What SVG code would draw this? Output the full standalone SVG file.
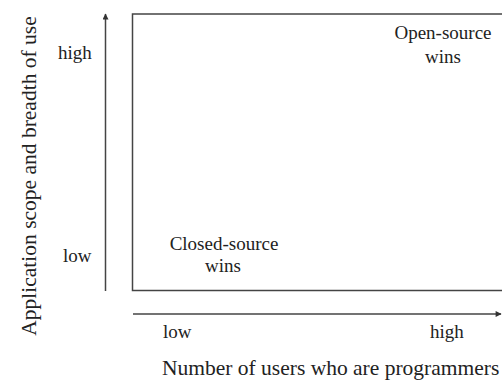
<svg xmlns="http://www.w3.org/2000/svg" width="502" height="383" viewBox="0 0 502 383">
<style>
text{font-family:"Liberation Serif","Times New Roman",serif;fill:#222}
.lbl{font-size:19px}
.ttl{font-size:21.5px}
.ax{stroke:#444;stroke-width:1.5;fill:none}
.mid{text-anchor:middle}
</style>
<defs>
<marker id="ah" viewBox="0 0 10 10" refX="9" refY="5" markerWidth="12" markerHeight="6" markerUnits="userSpaceOnUse" orient="auto">
<path d="M0,0 L10,5 L0,10 Z" fill="#333"/>
</marker>
</defs>
<rect width="502" height="383" fill="#fff"/>
<g id="frame">
<rect class="ax" x="132.5" y="14" width="380" height="276.5"/>
</g>
<g id="connectors">
<line class="ax" x1="105.5" y1="291" x2="105.5" y2="14" marker-end="url(#ah)"/>
<line class="ax" x1="133" y1="314" x2="501" y2="314" marker-end="url(#ah)"/>
</g>
<g id="open-source">
<text class="lbl mid" x="443" y="39">Open-source</text>
<text class="lbl mid" x="443" y="63">wins</text>
</g>
<g id="closed-source">
<text class="lbl mid" x="224" y="250">Closed-source</text>
<text class="lbl mid" x="223" y="272">wins</text>
</g>
<g id="y-axis">
<text class="lbl" x="58" y="59">high</text>
<text class="lbl" x="63" y="262">low</text>
<text class="ttl mid" transform="translate(36,176) rotate(-90)">Application scope and breadth of use</text>
</g>
<g id="x-axis">
<text class="lbl" x="163" y="338">low</text>
<text class="lbl" x="430" y="338">high</text>
<text class="ttl" x="162" y="375">Number of users who are programmers</text>
</g>
</svg>
